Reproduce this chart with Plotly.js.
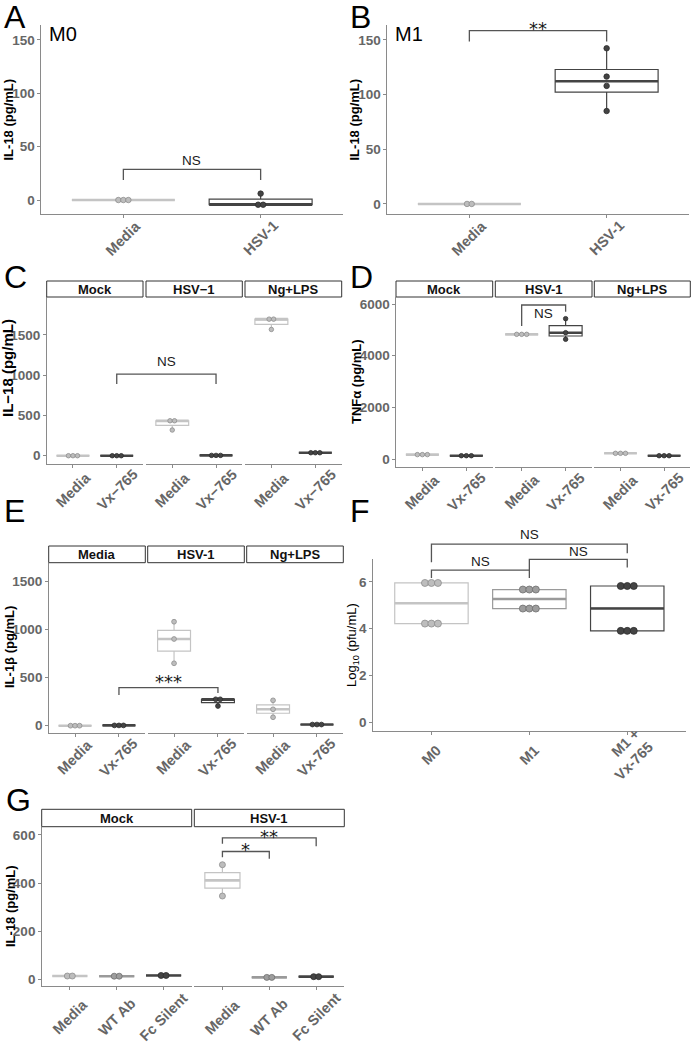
<!DOCTYPE html>
<html><head><meta charset="utf-8">
<script src="https://cdn.plot.ly/plotly-3.0.1.min.js"></script>
<style>html,body{margin:0;padding:0;background:#fff}</style>
</head><body><div id="chart" style="width:692px;height:1044px"></div>
<script>
// ===================== DATA =====================
const abCats = ['Media', 'HSV-1'];
const abTicks = [0, 50, 100, 150];
const aMedia = [0, 0, 0];
const aHsv = [-4.4, -4.4, 6];
const bMedia = [0, 0];
const bHsv = [142.4, 116.5, 108, 85];

const cFacets = ['Mock', 'HSV\u22121', 'Ng+LPS'];
const cCats = ['Media', 'Vx\u2212765'];
const cTicks = [0, 500, 1000, 1500];
const cMockMedia = [0, 0, 0], cMockVx = [0, 0, 0];
const cHsvMedia = [434, 434, 319], cHsvVx = [4, 4, 4];
const cNgMedia = [1696, 1696, 1568], cNgVx = [37, 37, 37];

const dFacets = ['Mock', 'HSV-1', 'Ng+LPS'];
const dCats = ['Media', 'Vx-765'];
const dTicks = [0, 2000, 4000, 6000];
const dMockMedia = [170, 170, 170], dMockVx = [128, 128, 128];
const dHsvMedia = [4826, 4826, 4826], dHsvVx = [5432, 4890, 4634];
const dNgMedia = [220, 220, 220], dNgVx = [128, 128, 128];

const eFacets = ['Media', 'HSV-1', 'Ng+LPS'];
const eCats = ['Media', 'Vx-765'];
const eTicks = [0, 500, 1000, 1500];
const eMediaMedia = [0, 0, 0], eMediaVx = [3, 3, 3];
const eHsvMedia = [1083, 903, 650], eHsvVx = [275, 275, 205];
const eNgMedia = [264, 171, 88], eNgVx = [12, 12, 12];

const fCats = ['M0', 'M1', 'M1 +<br>Vx-765'];
const fTicks = [0, 2, 4, 6];
const fM0 = [5.95, 5.95, 5.95, 4.22, 4.22, 4.22];
const fM1 = [5.67, 5.67, 5.67, 4.86, 4.86, 4.86];
const fM1Vx = [5.82, 5.82, 5.82, 3.91, 3.91, 3.91];

const gFacets = ['Mock', 'HSV-1'];
const gCats = ['Media', 'WT Ab', 'Fc Silent'];
const gTicks = [0, 200, 400, 600];
const gMockMedia = [13.7, 13.7], gMockWt = [13, 13], gMockFc = [16, 16];
const gHsvMedia = [476, 346], gHsvWt = [8, 8], gHsvFc = [11, 11];

// ===================== STYLE / HELPERS =====================
const W = 692, H = 1044;
const FONT = 'Liberation Sans, Arial, Helvetica, sans-serif';
const STARFONT = 'DejaVu Sans, sans-serif';
const AX = '#8a8a8a', TICKC = '#666666';
const LIGHT = {box: '#c4c4c4', fill: '#bdbdbd', edge: '#8e8e8e'};
const MID = {box: '#9a9a9a', fill: '#9d9d9d', edge: '#6f6f6f'};
const DARK = {box: '#444444', fill: '#444444', edge: '#2c2c2c'};

const traces = [];
const layout = {
  width: W, height: H, margin: {l: 0, r: 0, t: 0, b: 0},
  paper_bgcolor: '#ffffff', plot_bgcolor: 'rgba(0,0,0,0)',
  showlegend: false, font: {family: FONT}, annotations: [], shapes: [],
  boxmode: 'overlay'
};
let nAx = 0;

function panel(x0, x1, y0, y1, yr, n, ticks, showY) {
  nAx++;
  const s = nAx === 1 ? '' : String(nAx);
  const idx = Array.from({length: n}, (_, i) => i);
  layout['xaxis' + s] = {
    domain: [x0 / W, x1 / W], range: [-0.6, n - 0.4], anchor: 'y' + s,
    showgrid: false, zeroline: false, showline: true, linecolor: AX, linewidth: 1.1,
    ticks: 'outside', ticklen: 3, tickcolor: AX, tickwidth: 1,
    tickvals: idx, showticklabels: false, fixedrange: true
  };
  layout['yaxis' + s] = {
    domain: [1 - y1 / H, 1 - y0 / H], range: yr, anchor: 'x' + s,
    showgrid: false, zeroline: false, showline: showY, linecolor: AX, linewidth: 1.1,
    ticks: showY ? 'outside' : '', ticklen: 2.5, tickcolor: AX, tickwidth: 1,
    tickvals: ticks, showticklabels: showY,
    tickfont: {family: FONT, size: 13.5, color: TICKC, weight: 'bold'}, fixedrange: true
  };
  return {x0, x1, y0, y1, yr, n, xa: 'x' + s, ya: 'y' + s};
}

function quant(s, p) {
  const h = (s.length - 1) * p, lo = Math.floor(h), hi = Math.ceil(h);
  return s[lo] + (h - lo) * (s[hi] - s[lo]);
}

function group(p, idx, vals, st, dotPx, dotSize) {
  const s = [...vals].sort((a, b) => a - b);
  const q1 = quant(s, 0.25), md = quant(s, 0.5), q3 = quant(s, 0.75), iqr = q3 - q1;
  const lf = Math.min(...s.filter(v => v >= q1 - 1.5 * iqr));
  const uf = Math.max(...s.filter(v => v <= q3 + 1.5 * iqr));
  traces.push({type: 'box', x: [idx], q1: [q1], median: [md], q3: [q3],
    lowerfence: [lf], upperfence: [uf], width: 0.75, whiskerwidth: 0,
    line: {color: st.box, width: 1.2}, fillcolor: '#ffffff', boxpoints: false,
    xaxis: p.xa, yaxis: p.ya, hoverinfo: 'skip'});
  traces.push({type: 'scatter', mode: 'lines', x: [idx - 0.375, idx + 0.375], y: [md, md],
    line: {color: st.box, width: 2.6}, xaxis: p.xa, yaxis: p.ya, hoverinfo: 'skip'});
  const unit = (p.x1 - p.x0) / (p.n + 0.2), step = dotPx / unit;
  const counts = {}, seen = {};
  vals.forEach(v => counts[v] = (counts[v] || 0) + 1);
  const xs = vals.map(v => {
    const j = (seen[v] = (seen[v] || 0) + 1) - 1;
    return idx + (j - (counts[v] - 1) / 2) * step;
  });
  traces.push({type: 'scatter', mode: 'markers', x: xs, y: vals, cliponaxis: false,
    marker: {size: dotSize, color: st.fill, line: {color: st.edge, width: 0.8}},
    xaxis: p.xa, yaxis: p.ya, hoverinfo: 'skip'});
}

function xlabels(p, cats, offPx) {
  cats.forEach((c, i) => layout.annotations.push({
    xref: p.xa, x: i, yref: 'paper', y: 1 - (p.y1 + offPx) / H, text: c, textangle: -45,
    xanchor: 'center', yanchor: 'middle', showarrow: false, align: 'right',
    font: {family: FONT, size: 14.5, color: TICKC, weight: 'bold'}
  }));
}

function ytitle(text, xPx, yPx, size, bold) {
  layout.annotations.push({xref: 'paper', yref: 'paper', x: xPx / W,
    y: 1 - yPx / H, text: text, textangle: -90, showarrow: false,
    xanchor: 'center', yanchor: 'middle',
    font: {family: FONT, size: size, color: '#000000', weight: bold ? 'bold' : 'normal'}});
}

function letter(t, xPx, yPx, size) {
  layout.annotations.push({xref: 'paper', yref: 'paper', x: xPx / W, y: 1 - yPx / H,
    text: t, showarrow: false, xanchor: 'left', yanchor: 'middle',
    font: {family: FONT, size: size, color: '#000000'}});
}

function strips(ps, labels, y0, y1) {
  ps.forEach((p, i) => {
    layout.shapes.push({type: 'rect', xref: 'paper', yref: 'paper',
      x0: p.x0 / W, x1: p.x1 / W, y0: 1 - y1 / H, y1: 1 - y0 / H,
      line: {color: '#333333', width: 1}, fillcolor: '#ffffff'});
    layout.annotations.push({xref: 'paper', yref: 'paper', x: (p.x0 + p.x1) / 2 / W,
      y: 1 - ((y0 + y1) / 2) / H, text: labels[i], showarrow: false,
      xanchor: 'center', yanchor: 'middle',
      font: {family: FONT, size: 13, color: '#111111', weight: 'bold'}});
  });
}

function xPaper(p, v) {
  return (p.x0 + (v + 0.6) / (p.n + 0.2) * (p.x1 - p.x0)) / W;
}
function yPaper(p, v) {
  const f = (v - p.yr[0]) / (p.yr[1] - p.yr[0]);
  return 1 - (p.y1 - f * (p.y1 - p.y0)) / H;
}

function sig(pa, ca, pb, cb, yLine, yTipL, yTipR, label, yLabel) {
  const xa = xPaper(pa, ca), xb = xPaper(pb, cb);
  const yl = yPaper(pa, yLine), ya = yPaper(pa, yTipL), yb = yPaper(pa, yTipR);
  layout.shapes.push({type: 'path', xref: 'paper', yref: 'paper',
    path: `M ${xa},${ya} L ${xa},${yl} L ${xb},${yl} L ${xb},${yb}`,
    line: {color: '#555555', width: 1.3}});
  const star = label.indexOf('*') >= 0;
  layout.annotations.push({xref: 'paper', yref: 'paper', x: (xa + xb) / 2, y: yPaper(pa, yLabel),
    text: label, showarrow: false, xanchor: 'center', yanchor: 'middle',
    yshift: star ? -4 : 0,
    font: star ? {family: STARFONT, size: 18, color: '#1a1a1a'}
               : {family: FONT, size: 13.5, color: '#1a1a1a'}});
}

// ===================== PANELS =====================
// A
const pA = panel(41, 343, 25, 214, [-13.1, 164], 2, abTicks, true);
group(pA, 0, aMedia, LIGHT, 5, 5.5);
group(pA, 1, aHsv, DARK, 5, 5.5);
xlabels(pA, abCats, 24);
ytitle('IL-18 (pg/mL)', 8, 119.5, 13, true);
sig(pA, 0, pA, 1, 28.8, 18.8, 18.8, 'NS', 36.6);
letter('A', 2, 17, 32);
letter('M0', 47, 34, 20);

// B
const pB = panel(387, 689, 25, 214, [-9.2, 163.7], 2, abTicks, true);
group(pB, 0, bMedia, LIGHT, 4.7, 5.5);
group(pB, 1, bHsv, DARK, 5, 5.5);
xlabels(pB, abCats, 24);
ytitle('IL-18 (pg/mL)', 354, 119.5, 13, true);
sig(pB, 0, pB, 1, 158.5, 148.5, 148.5, '**', 163.7);
letter('B', 348, 17, 32);
letter('M1', 393, 34, 20);

// C
const cX = [[46.7, 143], [146, 242.3], [245, 341.7]];
const cP = cX.map((x, i) => panel(x[0], x[1], 297, 464, [-103, 1971], 2, cTicks, i === 0));
group(cP[0], 0, cMockMedia, LIGHT, 4.5, 4.5); group(cP[0], 1, cMockVx, DARK, 4.5, 4.5);
group(cP[1], 0, cHsvMedia, LIGHT, 4.5, 4.5); group(cP[1], 1, cHsvVx, DARK, 4.5, 4.5);
group(cP[2], 0, cNgMedia, LIGHT, 4.5, 4.5); group(cP[2], 1, cNgVx, DARK, 4.5, 4.5);
cP.forEach(p => xlabels(p, cCats, 25.5));
strips(cP, cFacets, 281, 297);
ytitle('IL\u221218 (pg/mL)', 7, 368, 15, true);
sig(cP[0], 1, cP[1], 1, 1013, 890, 890, 'NS', 1165);
letter('C', 2, 277, 32);

// D
const dX = [[396, 492.7], [495.3, 592], [594.3, 690.3]];
const dP = dX.map((x, i) => panel(x[0], x[1], 297, 466.7, [-298, 6271], 2, dTicks, i === 0));
group(dP[0], 0, dMockMedia, LIGHT, 5, 4.5); group(dP[0], 1, dMockVx, DARK, 5, 4.5);
group(dP[1], 0, dHsvMedia, LIGHT, 5, 4.5); group(dP[1], 1, dHsvVx, DARK, 5, 4.5);
group(dP[2], 0, dNgMedia, LIGHT, 5, 4.5); group(dP[2], 1, dNgVx, DARK, 5, 4.5);
dP.forEach(p => xlabels(p, dCats, 25));
strips(dP, dFacets, 281, 297);
ytitle('TNF\u03b1 (pg/mL)', 356, 382, 13, true);
sig(dP[1], 0, dP[1], 1, 5962, 5149, 5703, 'NS', 5640);
letter('D', 348, 277, 32);

// E
const eX = [[48.7, 145.3], [147.7, 244.3], [246.7, 343.3]];
const eP = eX.map((x, i) => panel(x[0], x[1], 562.7, 732.7, [-73, 1698], 2, eTicks, i === 0));
group(eP[0], 0, eMediaMedia, LIGHT, 4.5, 4.8); group(eP[0], 1, eMediaVx, DARK, 4.5, 4.8);
group(eP[1], 0, eHsvMedia, LIGHT, 4.5, 4.8); group(eP[1], 1, eHsvVx, DARK, 4.5, 4.8);
group(eP[2], 0, eNgMedia, LIGHT, 4.5, 4.8); group(eP[2], 1, eNgVx, DARK, 4.5, 4.8);
eP.forEach(p => xlabels(p, eCats, 24.5));
strips(eP, eFacets, 546, 562.7);
ytitle('IL-1\u03b2 (pg/mL)', 9, 647, 13, true);
sig(eP[0], 1, eP[1], 1, 396, 320, 340, '***', 507);
letter('E', 2, 511, 32);

// F
const pF = panel(372.7, 686, 559, 730.7, [-0.34, 6.97], 3, fTicks, true);
group(pF, 0, fM0, LIGHT, 6.5, 7);
group(pF, 1, fM1, MID, 6.5, 7);
group(pF, 2, fM1Vx, DARK, 6.5, 7);
xlabels(pF, fCats, 24);
ytitle('Log<sub>10</sub> (pfu/mL)', 352, 645, 13, false);
sig(pF, 0, pF, 2, 7.60, 6.83, 7.21, 'NS', 8.01);
sig(pF, 0, pF, 1, 6.50, 6.16, 6.16, 'NS', 6.85);
sig(pF, 1, pF, 2, 6.95, 6.50, 6.61, 'NS', 7.28);
letter('F', 348, 511, 32);

// G
const gX = [[41.7, 191.7], [194.3, 344.3]];
const gP = gX.map((x, i) => panel(x[0], x[1], 826.7, 985.7, [-26.5, 634], 3, gTicks, i === 0));
group(gP[0], 0, gMockMedia, LIGHT, 5, 6); group(gP[0], 1, gMockWt, MID, 5, 6); group(gP[0], 2, gMockFc, DARK, 5, 6);
group(gP[1], 0, gHsvMedia, LIGHT, 5, 6); group(gP[1], 1, gHsvWt, MID, 5, 6); group(gP[1], 2, gHsvFc, DARK, 5, 6);
gP.forEach(p => xlabels(p, gCats, 31));
strips(gP, gFacets, 809.3, 826.7);
ytitle('IL-18 (pg/mL)', 10, 906, 13, true);
sig(gP[1], 0, gP[1], 1, 531, 507, 501, '*', 555.7);
sig(gP[1], 0, gP[1], 2, 587.5, 563, 553, '**', 610);
letter('G', 4, 800, 32);

Plotly.newPlot('chart', traces, layout, {staticPlot: true, displayModeBar: false});
</script>
</body></html>
